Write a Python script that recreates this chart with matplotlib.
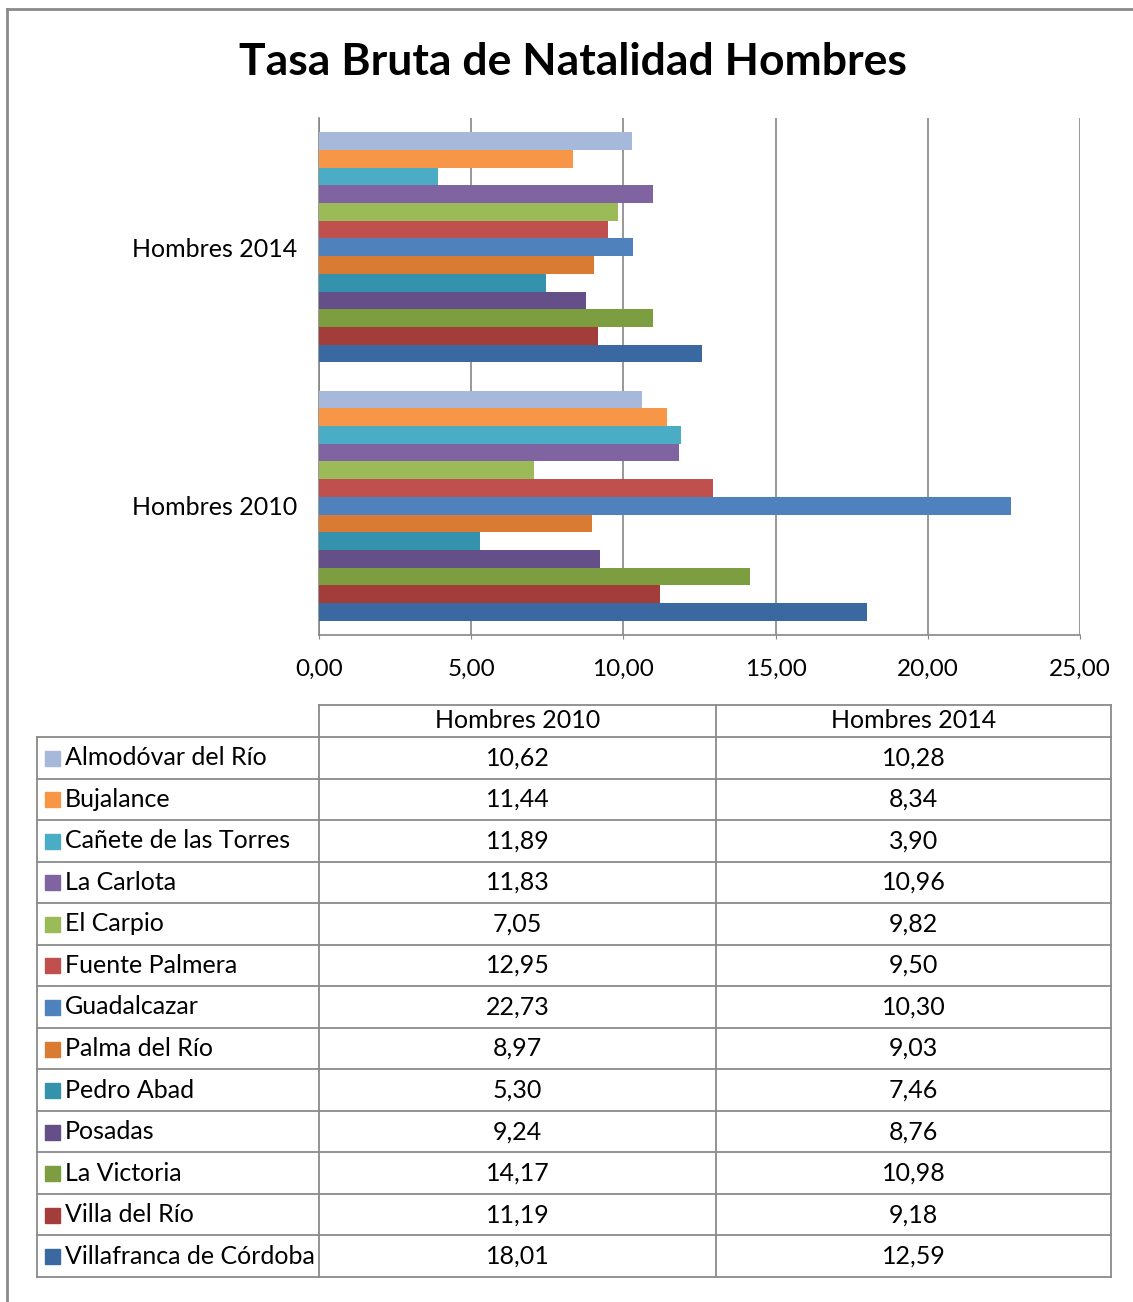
import numpy as np
import matplotlib.pyplot as plt

plt.rcParams['font.family'] = ['Lato', 'DejaVu Sans']

municipios = ['Almodóvar del Río', 'Bujalance', 'Cañete de las Torres', 'La Carlota',
              'El Carpio', 'Fuente Palmera', 'Guadalcazar', 'Palma del Río',
              'Pedro Abad', 'Posadas', 'La Victoria', 'Villa del Río',
              'Villafranca de Córdoba']
hombres_2010 = [10.62, 11.44, 11.89, 11.83, 7.05, 12.95, 22.73, 8.97, 5.30, 9.24, 14.17, 11.19, 18.01]
hombres_2014 = [10.28, 8.34, 3.90, 10.96, 9.82, 9.50, 10.30, 9.03, 7.46, 8.76, 10.98, 9.18, 12.59]
categorias = ['Hombres 2010', 'Hombres 2014']
colores = ['#A7B9DB', '#F79646', '#4BACC6', '#8064A2', '#9BBB59', '#C0504D', '#4F81BD',
           '#DA7B34', '#3592AC', '#654F88', '#7C9D40', '#A33D3A', '#3A68A0']
xticks = [0, 5, 10, 15, 20, 25]

W, H = 1133, 1302
fig = plt.figure(figsize=(W / 100, H / 100), dpi=100)

def fx(px):
    return px / W

def fy(py):
    return 1 - py / H

def coma(v):
    return ('%.2f' % v).replace('.', ',')

# bar chart area
ax = fig.add_axes([fx(319), fy(635), fx(1080) - fx(319), fy(118) - fy(635)])
n = len(municipios)
h = 0.0685
valores = np.array([hombres_2010, hombres_2014])
for i in range(n):
    offs = (n // 2 - i) * h
    ax.barh(np.arange(2) + offs, valores[:, i], height=h, color=colores[i], zorder=3)

ax.set_xlim(0, 25)
ax.set_ylim(-0.5, 1.5)
ax.set_xticks(xticks)
ax.set_xticklabels([coma(v) for v in xticks], fontsize=17.5)
ax.set_yticks([0, 1])
ax.set_yticklabels(categorias, fontsize=18)
ax.tick_params(axis='x', length=3, color='#868686', pad=14)
ax.tick_params(axis='y', length=0, pad=16)
ax.grid(axis='x', color='#868686', lw=1.2, zorder=1)
for s in ['top', 'right']:
    ax.spines[s].set_visible(False)
for s in ['left', 'bottom']:
    ax.spines[s].set_color('#868686')
    ax.spines[s].set_linewidth(1.2)

# overlay in pixel coords for frame, title and data table
ov = fig.add_axes([0, 0, 1, 1], zorder=5)
ov.set_xlim(0, W)
ov.set_ylim(H, 0)
ov.axis('off')
ov.patch.set_alpha(0)

ov.plot([7, W], [9, 9], color='#8a8a8a', lw=2)
ov.plot([7, 7], [9, H], color='#8a8a8a', lw=2)

ov.text(573, 62, 'Tasa Bruta de Natalidad Hombres', fontsize=32, fontweight='bold',
        ha='center', va='center')

# table
cx = [37, 319, 716, 1111]
top_hdr = 705
row0 = 737
rh = (1277 - row0) / n
lc = '#8a8a8a'
ov.plot([cx[1], cx[3]], [top_hdr, top_hdr], color=lc, lw=1.3)
for x in cx[1:]:
    ov.plot([x, x], [top_hdr, row0], color=lc, lw=1.3)
for j in range(n + 1):
    y = row0 + j * rh
    ov.plot([cx[0], cx[3]], [y, y], color=lc, lw=1.3)
for x in cx:
    ov.plot([x, x], [row0, row0 + n * rh], color=lc, lw=1.3)

ov.text((cx[1] + cx[2]) / 2, (top_hdr + row0) / 2, categorias[0], fontsize=18, ha='center', va='center')
ov.text((cx[2] + cx[3]) / 2, (top_hdr + row0) / 2, categorias[1], fontsize=18, ha='center', va='center')

for j in range(n):
    yc = row0 + (j + 0.5) * rh
    ov.add_patch(plt.Rectangle((45, yc - 7), 15, 15, color=colores[j]))
    ov.text(65, yc, municipios[j], fontsize=18, ha='left', va='center')
    ov.text((cx[1] + cx[2]) / 2, yc, coma(hombres_2010[j]), fontsize=18, ha='center', va='center')
    ov.text((cx[2] + cx[3]) / 2, yc, coma(hombres_2014[j]), fontsize=18, ha='center', va='center')

fig.savefig('out.png', dpi=100)
